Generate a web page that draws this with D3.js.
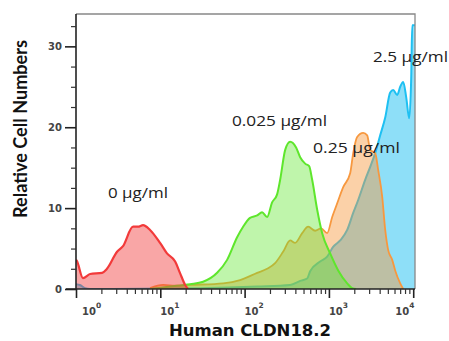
<!DOCTYPE html>
<html>
<head>
<meta charset="utf-8">
<script src="https://cdn.jsdelivr.net/npm/d3@7/dist/d3.min.js"></script>
<style>
  html, body { margin: 0; padding: 0; background: #fff; }
  svg { display: block; }
</style>
</head>
<body>
<svg id="chart" width="449" height="341"></svg>
<script>
// ---- data (fluorescence intensity, relative cell number) ----
const xDecades = [1, 10, 100, 1000, 10000];
const xExponents = ["0", "1", "2", "3", "4"];
const yMajorTicks = [0, 10, 20, 30];
const yMinorTicks = [2.5, 5, 7.5, 12.5, 15, 17.5, 22.5, 25, 27.5, 32.5];

const series0 = [[1.0,3.6],[1.02,3.5],[1.21,1.35],[1.47,1.85],[2.04,2.0],[2.33,2.5],[3.07,4.6],[3.61,5.3],
  [4.75,7.7],[5.44,7.7],[6.24,7.9],[7.56,7.3],[9.93,5.7],[12.0,4.4],[15.0,3.4],[17.1,2.0],[19.7,0.5],[21.3,0]];

const series0025 = [[7.56,0],[13.1,0.3],[22.5,0.6],[32.2,0.9],[47.2,2.0],[62.0,3.6],[81.5,6.4],[96,7.7],
  [116,8.8],[141,9.1],[161,9.5],[185,8.9],[212,10.7],[243,11.7],[264,13.5],[303,17.2],[347,18.2],[408,17.5],
  [456,16.3],[523,15.5],[583,15.2],[633,13.5],[726,9.8],[832,6.9],[1035,4.4],[1288,2.3],[1648,0.7],[1888,0.1],[2105,0]];

const series025 = [[7.56,0.1],[10.8,0.5],[15.0,0.4],[22.5,0.5],[55.6,0.7],[88.4,1.1],[141,2.0],[185,2.5],
  [230,3.2],[286,4.6],[347,6.0],[397,5.7],[482,6.9],[567,7.7],[687,7.2],[809,7.5],[953,6.9],[1094,8.9],
  [1254,10.6],[1477,12.6],[1787,14.3],[1941,16.8],[2163,18.8],[2552,19.3],[2845,19.0],[3090,17.2],[3540,16.8],
  [3844,14.7],[4289,11.4],[4655,7.3],[5050,4.8],[5632,3.6],[6110,2.3],[7010,0.7],[7610,0]];

const series25 = [[1.0,0.6],[1.11,0.5],[1.28,0.1],[1.47,0],[29.6,0.1],[141,0.3],[347,0.5],[456,1.0],
  [552,1.3],[599,2.2],[787,3.4],[953,4.0],[1122,5.2],[1360,6.0],[1648,7.3],[1941,9.4],[2225,11.0],
  [2693,13.5],[3090,15.1],[3540,16.8],[4059,19.0],[4655,21.2],[5333,24.3],[5790,24.6],[6460,24.0],
  [7010,25.0],[7610,25.6],[8260,23.7],[8970,21.1],[9470,26.2],[9730,32.6],[10500,32.6]];

const seriesLabels = ["2.5 \u03bcg/ml", "0.25 \u03bcg/ml", "0.025 \u03bcg/ml", "0 \u03bcg/ml"];
const xTitle = "Human CLDN18.2";
const yTitle = "Relative Cell Numbers";

// ---- layout ----
const svg = d3.select("#chart");
const L = 76, R = 415, T = 14, B = 289;
const x = d3.scaleLog().domain([1, 10500]).range([L, R]);
const y = d3.scaleLinear().domain([0, 34]).range([B, T]);

svg.append("defs").append("clipPath").attr("id", "plotclip")
  .append("rect").attr("x", L).attr("y", T).attr("width", R - L).attr("height", B - T);

const layers = [
  { data: series25,   color: "#1ec0f2", op: 0.5,  sw: 2.0 },
  { data: series025,  color: "#f7983f", op: 0.45, sw: 1.8 },
  { data: series0025, color: "#5ee62c", op: 0.4,  sw: 2.0 },
  { data: series0,    color: "#f23a3a", op: 0.45, sw: 2.2 }
];

const area = d3.area().x(d => x(d[0])).y0(y(0)).y1(d => y(d[1])).curve(d3.curveMonotoneX);
const line = d3.line().x(d => x(d[0])).y(d => y(d[1])).curve(d3.curveMonotoneX);

const plot = svg.append("g").attr("clip-path", "url(#plotclip)");
layers.forEach(s => {
  plot.append("path").datum(s.data).attr("d", area)
    .attr("fill", s.color).attr("fill-opacity", s.op).attr("stroke", "none");
  plot.append("path").datum(s.data).attr("d", line)
    .attr("fill", "none").attr("stroke", s.color).attr("stroke-width", s.sw)
    .attr("stroke-linejoin", "round");
});

// frame (top & right)
svg.append("path").attr("d", `M${L},${T}H${R}V${B}`)
  .attr("fill", "none").attr("stroke", "#888").attr("stroke-width", 1.3);

// y axis
const yAxisMajor = d3.axisLeft(y).tickValues(yMajorTicks).tickSize(11).tickSizeOuter(0).tickPadding(3)
  .tickFormat(d3.format("d"));
const gy = svg.append("g").attr("transform", `translate(${L},0)`).call(yAxisMajor);
gy.select(".domain").attr("d", `M0,${T}V${B}`).attr("stroke", "#222").attr("stroke-width", 1.6);
gy.selectAll(".tick line").attr("stroke", "#222").attr("stroke-width", 1.6);
gy.selectAll(".tick text").attr("font-family", "DejaVu Sans").attr("font-weight", "bold")
  .attr("font-size", 10).attr("fill", "#444");

const gy2 = svg.append("g").attr("transform", `translate(${L},0)`)
  .call(d3.axisLeft(y).tickValues(yMinorTicks).tickSize(5).tickSizeOuter(0).tickFormat(""));
gy2.select(".domain").remove();
gy2.selectAll(".tick line").attr("stroke", "#333").attr("stroke-width", 1.2);

// x axis
const gx = svg.append("g").attr("transform", `translate(0,${B})`)
  .call(d3.axisBottom(x).tickValues(xDecades).tickSize(9).tickSizeOuter(0).tickFormat(""));
gx.select(".domain").attr("d", `M${L - 10},0H${R}`).attr("stroke", "#222").attr("stroke-width", 1.6);
gx.selectAll(".tick line").attr("stroke", "#222").attr("stroke-width", 1.6);

const minorX = [];
xDecades.slice(0, 4).forEach(d => { for (let k = 2; k <= 9; k++) minorX.push(d * k); });
const gx2 = svg.append("g").attr("transform", `translate(0,${B})`)
  .call(d3.axisBottom(x).tickValues(minorX).tickSize(5).tickSizeOuter(0).tickFormat(""));
gx2.select(".domain").remove();
gx2.selectAll(".tick line").attr("stroke", "#333").attr("stroke-width", 1.2);

const labelDx = [6, 0, 0, 0, -18];
xDecades.forEach((d, i) => {
  const t = svg.append("text").attr("x", x(d) + labelDx[i]).attr("y", 315)
    .attr("font-family", "DejaVu Sans").attr("font-weight", "bold").attr("font-size", 10)
    .attr("fill", "#444");
  t.append("tspan").text("10");
  t.append("tspan").attr("dy", -7).attr("font-size", 7.5).text(xExponents[i]);
});

// axis titles
svg.append("text").attr("x", 250).attr("y", 336).attr("text-anchor", "middle")
  .attr("font-family", "DejaVu Sans").attr("font-weight", "bold").attr("font-size", 16.5)
  .attr("fill", "#111").text(xTitle);

svg.append("text").attr("transform", "translate(27,129) rotate(-90)").attr("text-anchor", "middle")
  .attr("font-family", "Lato").attr("font-weight", "bold").attr("font-size", 19)
  .attr("textLength", 178).attr("lengthAdjust", "spacingAndGlyphs")
  .attr("fill", "#111").text(yTitle);

// annotations
const annot = [
  { t: seriesLabels[3], x: 108, y: 198, w: 60 },
  { t: seriesLabels[2], x: 232, y: 126, w: 95 },
  { t: seriesLabels[1], x: 313, y: 153, w: 87 },
  { t: seriesLabels[0], x: 373, y: 62,  w: 75 }
];
annot.forEach(a => {
  svg.append("text").attr("x", a.x).attr("y", a.y)
    .attr("font-family", "Open Sans").attr("font-size", 15)
    .attr("textLength", a.w).attr("lengthAdjust", "spacingAndGlyphs")
    .attr("fill", "#222").text(a.t);
});
</script>
</body>
</html>
